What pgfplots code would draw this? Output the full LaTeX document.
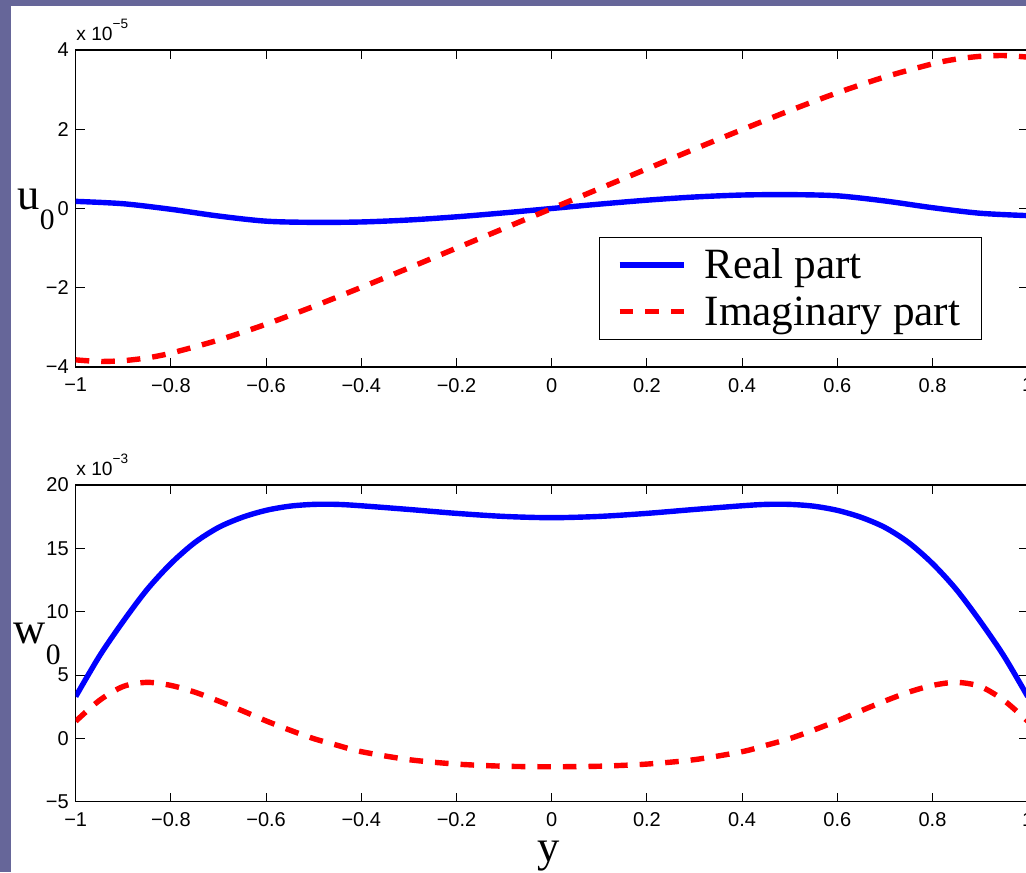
\documentclass[border=0pt]{standalone}
\usepackage{pgfplots}
\pgfplotsset{compat=1.18}
\usepackage{fontspec}
\setmainfont{Liberation Serif}
\newfontfamily\arial{Liberation Sans}
\definecolor{bgpurple}{RGB}{102,102,153}

\pgfplotsset{
  mystyle/.style={
    scale only axis, width=476pt,
    xmin=-1, xmax=1,
    xtick={-1,-0.8,-0.6,-0.4,-0.2,0,0.2,0.4,0.6,0.8,1},
    xticklabels={−1,−0.8,−0.6,−0.4,−0.2,0,0.2,0.4,0.6,0.8,1},
    tick align=inside, tick pos=both,
    xticklabel pos=lower, yticklabel pos=left,
    major tick length=4.5pt,
    axis line style={black, line width=0.6pt},
    every tick/.style={black, line width=0.5pt},
    ticklabel style={font=\arial\fontsize{10}{12}\selectfont},
    xticklabel style={yshift=-2pt},
    axis background/.style={fill=white},
    legend image code/.code={\draw[##1] (0pt,0pt) -- (32pt,0pt);},
  },
  realstyle/.style={blue, line width=2.7pt, smooth},
  imagstyle/.style={red, line width=2.7pt, smooth, dash pattern=on 6.8pt off 6pt},
}

\begin{document}
\begin{tikzpicture}
\useasboundingbox (0,0) rectangle (513pt,436pt);
\clip (0,0) rectangle (513pt,436pt);
\fill[bgpurple] (0,0) rectangle (513pt,436pt);
\fill[white] (5.5pt,0) rectangle (513pt,433pt);

% top axis: u0
\begin{axis}[mystyle, height=158.5pt,
  at={(37.85pt,252.5pt)}, anchor=south west,
  ymin=-4, ymax=4,
  ytick={-4,-2,0,2,4}, yticklabels={−4,−2,0,2,4},
  legend style={at={(0.55,0.411)}, anchor=north west, draw=black, line width=0.5pt,
    fill=white, font=\fontsize{21.6}{24}\selectfont,
    inner xsep=8.6pt, inner ysep=3pt, row sep=1.55pt, column sep=7.2pt,
    nodes={inner sep=2pt, text height=15.8pt, text depth=2pt},
    cells={anchor=west}},
]
\addplot[realstyle] coordinates {
(-1,0.18) (-0.9,0.12) (-0.8,-0.02) (-0.7,-0.19) (-0.6,-0.32) (-0.5,-0.35)
(-0.4,-0.34) (-0.3,-0.29) (-0.2,-0.21) (-0.1,-0.11) (0,0)
(0.1,0.11) (0.2,0.21) (0.3,0.29) (0.4,0.34) (0.5,0.35) (0.6,0.32)
(0.7,0.19) (0.8,0.02) (0.9,-0.12) (1,-0.18)
};
\addlegendentry{Real part}
\addplot[imagstyle] coordinates {
(-1,-3.82) (-0.95,-3.86) (-0.9,-3.84) (-0.85,-3.77) (-0.8,-3.65) (-0.7,-3.32)
(-0.6,-2.92) (-0.5,-2.47) (-0.4,-1.99) (-0.3,-1.5) (-0.2,-1.0) (-0.1,-0.5) (0,0)
(0.1,0.5) (0.2,1.0) (0.3,1.5) (0.4,1.99) (0.5,2.47) (0.6,2.92) (0.7,3.32)
(0.8,3.65) (0.85,3.77) (0.9,3.84) (0.95,3.86) (1,3.82)
};
\addlegendentry{Imaginary part}
\end{axis}

% bottom axis: w0
\begin{axis}[mystyle, height=158.35pt,
  at={(37.85pt,35.15pt)}, anchor=south west,
  ymin=-5, ymax=20,
  ytick={-5,0,5,10,15,20}, yticklabels={−5,0,5,10,15,20},
]
\addplot[realstyle] coordinates {
(-1,3.3) (-0.95,6.5) (-0.9,9.25) (-0.85,11.75) (-0.8,13.8) (-0.75,15.45)
(-0.7,16.65) (-0.65,17.45) (-0.6,18.0) (-0.55,18.33) (-0.5,18.47) (-0.45,18.47)
(-0.4,18.36) (-0.3,18.07) (-0.2,17.76) (-0.1,17.52) (0,17.42)
(0.1,17.52) (0.2,17.76) (0.3,18.07) (0.4,18.36) (0.45,18.47) (0.5,18.47)
(0.55,18.33) (0.6,18.0) (0.65,17.45) (0.7,16.65) (0.75,15.45) (0.8,13.8)
(0.85,11.75) (0.9,9.25) (0.95,6.5) (1,3.3)
};
\addplot[imagstyle] coordinates {
(-1,1.35) (-0.95,3.0) (-0.9,4.1) (-0.85,4.42) (-0.8,4.18) (-0.75,3.65)
(-0.7,2.95) (-0.65,2.18) (-0.6,1.38) (-0.55,0.65) (-0.5,-0.02) (-0.45,-0.55)
(-0.4,-1.05) (-0.3,-1.68) (-0.2,-2.03) (-0.1,-2.2) (0,-2.24)
(0.1,-2.2) (0.2,-2.03) (0.3,-1.68) (0.4,-1.05) (0.45,-0.55) (0.5,-0.02)
(0.55,0.65) (0.6,1.38) (0.65,2.18) (0.7,2.95) (0.75,3.65) (0.8,4.18)
(0.85,4.42) (0.9,4.1) (0.95,3.0) (1,1.35)
};
\end{axis}

% scale factors
\node[anchor=base west, inner sep=0, font=\arial\fontsize{9.6}{11}\selectfont]
  at (38pt,415.65pt) {x 10\raisebox{6.3pt}{\fontsize{6.8}{8}\selectfont −5}};
\node[anchor=base west, inner sep=0, font=\arial\fontsize{9.6}{11}\selectfont]
  at (38pt,198.15pt) {x 10\raisebox{6.2pt}{\fontsize{6.8}{8}\selectfont −3}};
% axis labels
\node[anchor=base west, inner sep=0, font=\fontsize{22.3}{26}\selectfont]
  at (8.65pt,331.35pt) {u\raisebox{-10.35pt}{\fontsize{14.8}{17}\selectfont 0}};
\node[anchor=base west, inner sep=0, font=\fontsize{22.3}{26}\selectfont]
  at (6.65pt,114.35pt) {w\raisebox{-10.5pt}{\fontsize{14.8}{17}\selectfont 0}};
\node[anchor=base, inner sep=0, font=\fontsize{22.3}{26}\selectfont]
  at (274.5pt,5.5pt) {y};
\end{tikzpicture}
\end{document}
